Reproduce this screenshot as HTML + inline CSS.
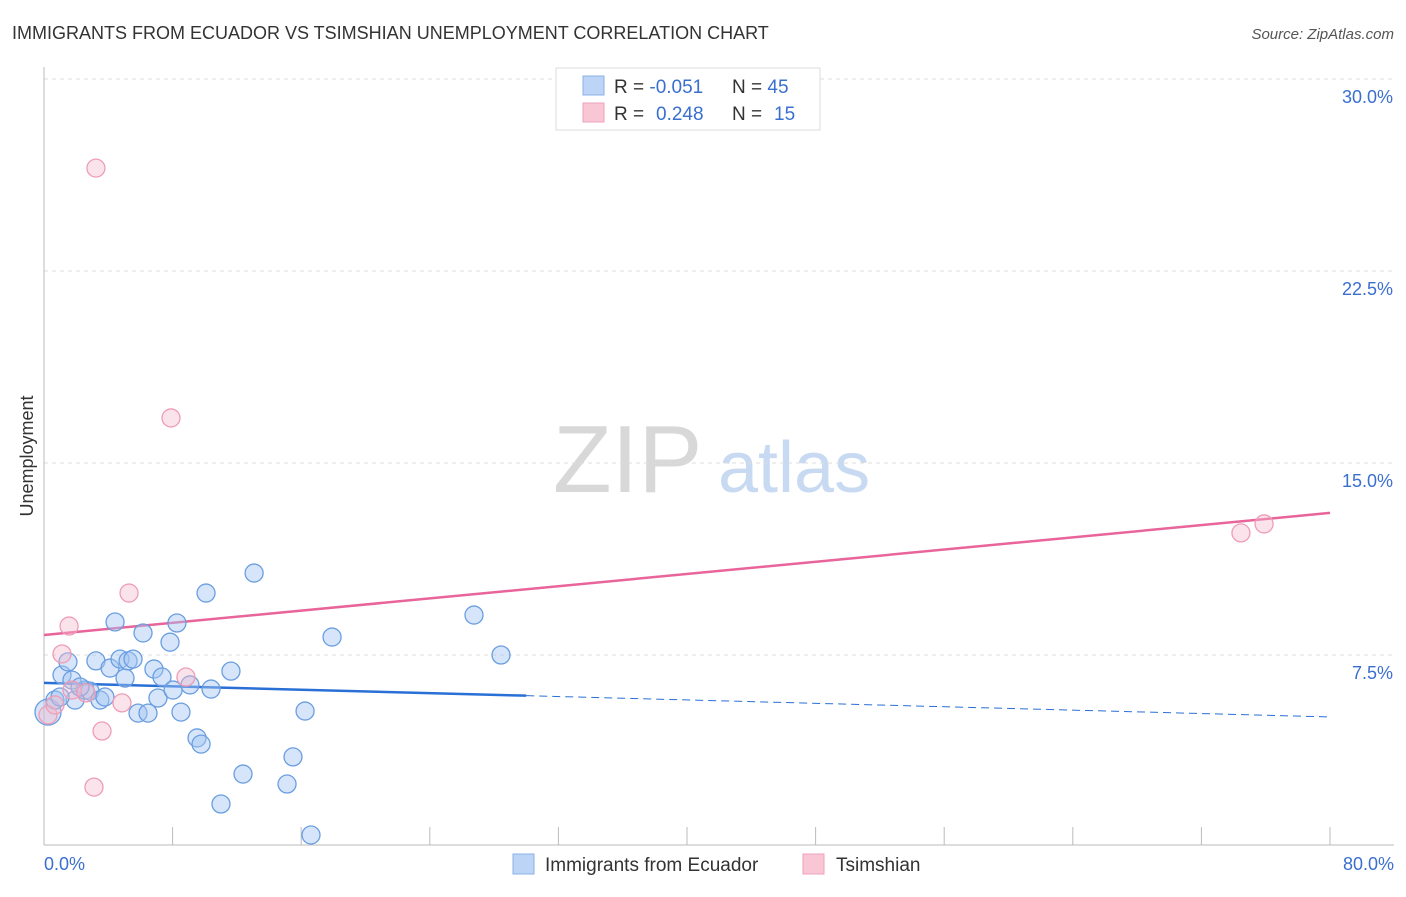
<!DOCTYPE html>
<html><head><meta charset="utf-8"><style>
body{margin:0;background:#fff;font-family:"Liberation Sans",sans-serif;}
svg text{font-family:"Liberation Sans",sans-serif;}
</style></head><body>
<svg width="1406" height="892" viewBox="0 0 1406 892" xmlns="http://www.w3.org/2000/svg">
<text x="12" y="39" font-size="18" fill="#333">IMMIGRANTS FROM ECUADOR VS TSIMSHIAN UNEMPLOYMENT CORRELATION CHART</text>
<text x="1394" y="39" font-size="15" fill="#555" font-style="italic" text-anchor="end">Source: ZipAtlas.com</text>
<text x="33" y="456" font-size="18" fill="#333" transform="rotate(-90 33 456)" text-anchor="middle">Unemployment</text>
<g>
<text x="553" y="492" font-size="96" font-family="Liberation Serif,serif" fill="#d8d8d8">ZIP</text>
<text x="718" y="492" font-size="72" fill="#c8daf2">atlas</text>
</g>
<g id="grid"></g><g id="axes"></g><g id="lines"></g><g id="pts"></g>
<g>
<rect x="556" y="68" width="264" height="62" fill="#fff" stroke="#ddd"/>
<rect x="583" y="76" width="21" height="19" fill="#bcd4f5" stroke="#8ab0e6"/>
<rect x="583" y="103" width="21" height="19" fill="#f9c6d5" stroke="#eea3bb"/>
<text x="614" y="93" font-size="19" fill="#333">R = <tspan fill="#3a6fd0">-0.051</tspan><tspan x="732">N = </tspan><tspan fill="#3a6fd0">45</tspan></text>
<text x="614" y="120" font-size="19" fill="#333">R = <tspan x="656" fill="#3a6fd0">0.248</tspan><tspan x="732">N = </tspan><tspan x="774" fill="#3a6fd0">15</tspan></text>
</g>
<g>
<rect x="513" y="854" width="21" height="20" fill="#bcd4f5" stroke="#8ab0e6"/>
<text x="545" y="871" font-size="19" fill="#333">Immigrants from Ecuador</text>
<rect x="803" y="854" width="21" height="20" fill="#f9c6d5" stroke="#eea3bb"/>
<text x="836" y="871" font-size="19" fill="#333">Tsimshian</text>
</g>
<text x="44" y="870" font-size="18" fill="#3a6fd0">0.0%</text>
<text x="1394" y="870" font-size="18" fill="#3a6fd0" text-anchor="end">80.0%</text>
</svg>
<script>
const yTicks=[30,22.5,15,7.5];
const yTickLabels=["30.0%","22.5%","15.0%","7.5%"];
const xTicks=[0,8,16,24,32,40,48,56,64,72,80];
const blueX=[0.25,0.68,1.12,1.49,1.74,1.93,2.55,2.86,3.23,3.48,3.79,4.11,4.42,4.73,5.04,5.23,5.54,5.85,6.16,6.47,6.84,7.09,7.34,7.84,8.03,8.27,8.52,9.08,9.52,9.77,10.08,10.39,11.01,11.63,12.38,13.07,15.12,15.49,16.24,16.61,17.92,26.75,28.43,1.0,2.24];
const blueY=[5.27,5.74,6.72,7.23,6.52,5.74,6.13,6.09,7.27,5.74,5.86,6.99,8.79,7.34,6.6,7.27,7.34,5.23,8.36,5.23,6.95,5.82,6.64,8.0,6.13,8.75,5.27,6.33,4.26,4.02,9.92,6.17,1.68,6.87,2.85,10.7,2.46,3.52,5.31,0.47,8.2,9.06,7.5,5.86,6.25];
const pinkX=[3.23,7.9,1.56,1.12,5.29,8.83,4.85,3.61,3.11,0.25,1.74,2.61,74.46,75.9,0.68];
const pinkY=[26.52,16.76,8.63,7.54,9.92,6.64,5.63,4.53,2.34,5.16,6.13,6.02,12.27,12.62,5.55];
const blueTrend=[6.41,5.08];
const pinkTrend=[8.28,13.05];
const blueSolidEnd=30;
const NS="http://www.w3.org/2000/svg";
const X=v=>44+v/80*1286, Y=v=>847-v*25.6;
function mk(t,a,p){const e=document.createElementNS(NS,t);for(const k in a)e.setAttribute(k,a[k]);p.appendChild(e);return e;}
const grid=document.getElementById('grid'),axes=document.getElementById('axes'),lines=document.getElementById('lines'),pts=document.getElementById('pts');
yTicks.forEach((v,i)=>{
 const l=mk('line',{x1:44,x2:1394,y1:Y(v),y2:Y(v),stroke:'#ddd','stroke-dasharray':'4,4'},grid);
 
 
 const t=mk('text',{x:1393,y:Y(v)+24,'font-size':18,fill:'#3a6fd0','text-anchor':'end'},grid);t.textContent=yTickLabels[i];
 
 
});
const ax=mk('line',{x1:44,x2:1394,y1:845,y2:845,stroke:'#bbb'},axes);


const ay=mk('line',{x1:44,x2:44,y1:67,y2:845,stroke:'#bbb'},axes);


xTicks.forEach(v=>{const t=mk('line',{x1:X(v),x2:X(v),y1:827,y2:845,stroke:'#bbb'},axes);
 
 });
function dot(x,y,r,fill,stroke,name){const c=mk('circle',{cx:X(x),cy:Y(y),r:r,fill:fill,stroke:stroke,'stroke-width':1.3},pts);
 
 }
blueX.forEach((x,i)=>dot(x,blueY[i],i===0?13:9,'rgba(165,198,242,0.45)','#6a9ee0','ecuador-point'));
pinkX.forEach((x,i)=>dot(x,pinkY[i],9,'rgba(246,185,205,0.4)','#ee9db6','tsimshian-point'));
const bv=x=>blueTrend[0]+(blueTrend[1]-blueTrend[0])*x/80;
const b1=mk('line',{x1:X(0),y1:Y(bv(0)),x2:X(blueSolidEnd),y2:Y(bv(blueSolidEnd)),stroke:'#2a6fd6','stroke-width':2.5},lines);


const b2=mk('line',{x1:X(blueSolidEnd),y1:Y(bv(blueSolidEnd)),x2:X(80),y2:Y(bv(80)),stroke:'#2a6fd6','stroke-width':1,'stroke-dasharray':'8,5'},lines);


const p1=mk('line',{x1:X(0),y1:Y(pinkTrend[0]),x2:X(80),y2:Y(pinkTrend[1]),stroke:'#e8649a','stroke-width':2.5},lines);


</script>
</body></html>
